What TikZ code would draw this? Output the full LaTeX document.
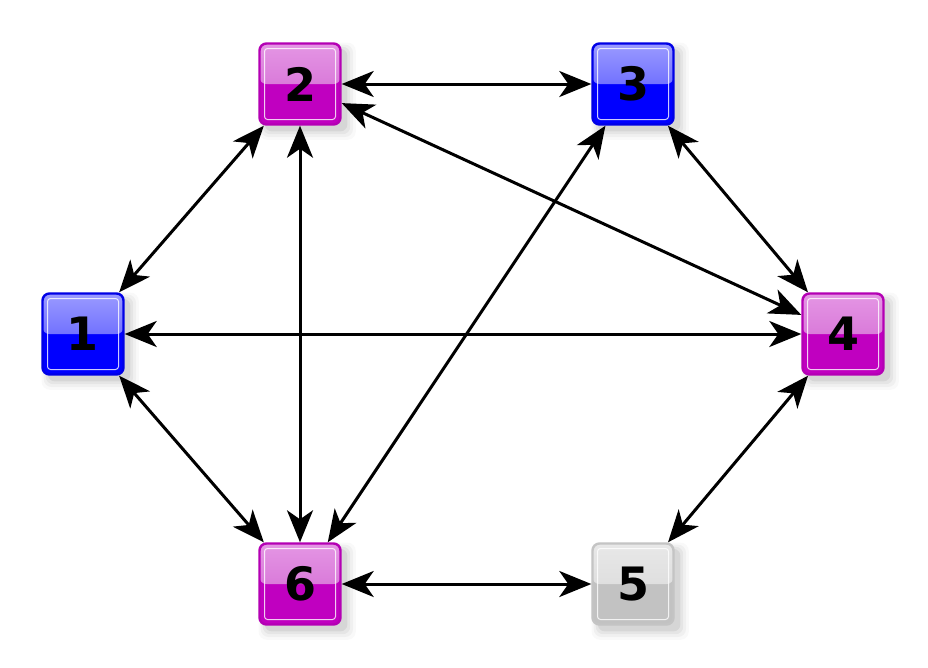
\documentclass[tikz,border=0pt]{standalone}
\usepackage{fontspec}
\newfontfamily\digitfont{DejaVu Sans}
\usetikzlibrary{arrows.meta,shadows,calc}
\definecolor{magB}{HTML}{B400B4}
\definecolor{magT}{HTML}{E496E4}
\definecolor{magM}{HTML}{D060D0}
\definecolor{magF}{HTML}{C000C0}
\definecolor{bluB}{HTML}{0000E6}
\definecolor{bluT}{HTML}{9A9AFF}
\definecolor{bluM}{HTML}{4A4AFF}
\definecolor{bluF}{HTML}{0000FF}
\definecolor{gryB}{HTML}{C4C4C4}
\definecolor{gryT}{HTML}{E8E8E8}
\definecolor{gryM}{HTML}{D6D6D6}
\definecolor{gryF}{HTML}{C2C2C2}
\tikzset{
  vbox/.style={rectangle, minimum size=81pt, inner sep=0pt, rounded corners=7pt,
    draw=#1B, line width=2.4pt, fill=#1F,
    font=\digitfont\bfseries\fontsize{46}{46}\selectfont,
    drop shadow={shadow xshift=6pt, shadow yshift=-6pt, shadow scale=1.20, opacity=0.05},
    drop shadow={shadow xshift=6pt, shadow yshift=-6pt, shadow scale=1.14, opacity=0.07},
    drop shadow={shadow xshift=6pt, shadow yshift=-6pt, shadow scale=1.08, opacity=0.10},
    drop shadow={shadow xshift=6pt, shadow yshift=-6pt, shadow scale=1.02, opacity=0.14},
    path picture={
      \fill[top color=#1T, bottom color=#1M]
        (path picture bounding box.north west) rectangle (path picture bounding box.east);
      \draw[white, opacity=0.8, line width=1pt, rounded corners=3pt]
        ($(path picture bounding box.north west)+(5pt,-5pt)$) rectangle
        ($(path picture bounding box.south east)+(-5pt,5pt)$);
    }},
  link/.style={line width=3pt, black,
    {Stealth[length=32pt,width=26pt,inset=9pt]}-{Stealth[length=32pt,width=26pt,inset=9pt]}}
}
\begin{document}
\begin{tikzpicture}[x=1pt,y=-1pt]
\useasboundingbox (0,0) rectangle (928,667);
\node[vbox=blu] (n1) at (83,334) {1};
\node[vbox=mag] (n2) at (300,84) {2};
\node[vbox=blu] (n3) at (633,84) {3};
\node[vbox=mag] (n4) at (843,334) {4};
\node[vbox=gry] (n5) at (633,584) {5};
\node[vbox=mag] (n6) at (300,584) {6};
\draw[link] (n1) -- (n2);
\draw[link] (n2) -- (n3);
\draw[link] (n2) -- (n6);
\draw[link] (n2) -- (n4);
\draw[link] (n3) -- (n4);
\draw[link] (n3) -- (n6);
\draw[link] (n1) -- (n4);
\draw[link] (n1) -- (n6);
\draw[link] (n4) -- (n5);
\draw[link] (n6) -- (n5);
\end{tikzpicture}
\end{document}
